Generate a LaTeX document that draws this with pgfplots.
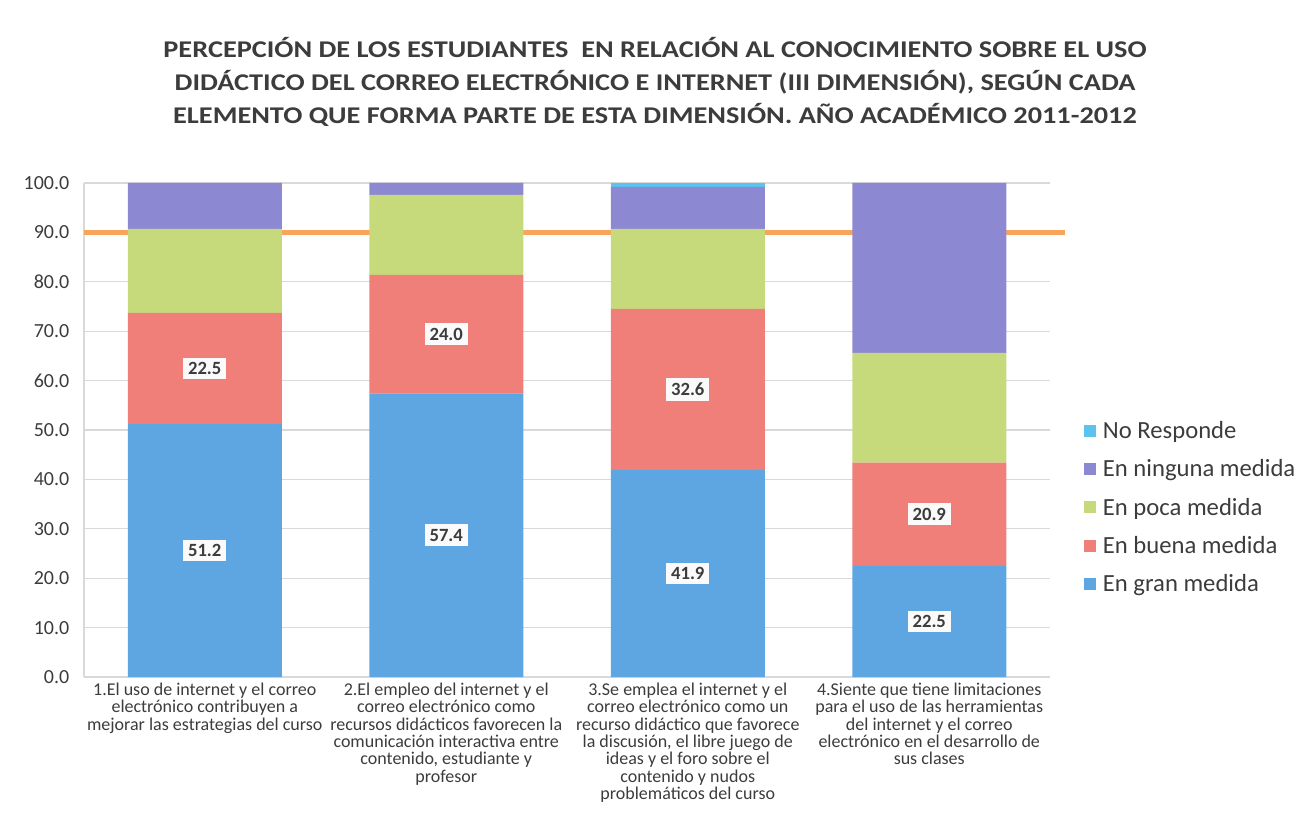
\documentclass[border=0pt]{standalone}
\usepackage{pgfplots}
\pgfplotsset{compat=1.18}
\usepackage{pgfplotstable}
\usepackage{fontspec}
\setmainfont{Carlito}
\definecolor{cgran}{HTML}{5DA6E2}
\definecolor{cbuena}{HTML}{F07F7A}
\definecolor{cpoca}{HTML}{C6DA7C}
\definecolor{cninguna}{HTML}{8D88D2}
\definecolor{cnr}{HTML}{5BC3EE}
\definecolor{corange}{HTML}{F8A45A}
\definecolor{tgray}{HTML}{3C3C3C}
\definecolor{ggray}{HTML}{D9D9D9}

\pgfplotstableread{
x gran buena poca ninguna nr
0 51.2 22.5 17.0 9.3 0
1 57.4 24.0 16.2 2.4 0
2 41.9 32.6 16.2 8.5 0.8
3 22.5 20.9 22.2 34.4 0
}\datatable

\pgfplotstableread{
x y lab
0 25.6 51.2
0 62.45 22.5
1 28.7 57.4
1 69.4 24.0
2 20.95 41.9
2 58.2 32.6
3 11.25 22.5
3 32.95 20.9
}\labeltable

\begin{document}
\begin{tikzpicture}
\path[use as bounding box] (0,0) rectangle (984.75pt,627pt);
\node[align=center, font=\bfseries\fontsize{18}{24.75}\selectfont, text=tgray, xscale=1.18, transform shape] at (491.25pt,565.5pt)
{PERCEPCIÓN DE LOS ESTUDIANTES \ EN RELACIÓN AL CONOCIMIENTO SOBRE EL USO\\
DIDÁCTICO DEL CORREO ELECTRÓNICO E INTERNET (III DIMENSIÓN), SEGÚN CADA\\
ELEMENTO QUE FORMA PARTE DE ESTA DIMENSIÓN. AÑO ACADÉMICO 2011-2012};

\begin{axis}[
  at={(63pt,119.25pt)}, anchor=south west,
  scale only axis, width=724.5pt, height=370.5pt,
  ybar stacked, bar width=115.5pt,
  xmin=-0.5, xmax=3.5, ymin=0, ymax=100,
  ytick={0,10,...,100},
  yticklabel={\pgfmathprintnumber[fixed,fixed zerofill,precision=1]{\tick}},
  /pgf/number format/assume math mode=true,
  yticklabel style={font=\fontsize{15}{17}\selectfont, text=tgray, xshift=-7.5pt},
  xtick=data,
  xticklabels={
    {1.El uso de internet y el correo\\electrónico contribuyen a\\mejorar las estrategias del curso},
    {2.El empleo del internet y el\\correo electrónico como\\recursos didácticos favorecen la\\comunicación interactiva entre\\contenido, estudiante y\\profesor},
    {3.Se emplea el internet y el\\correo electrónico como un\\recurso didáctico que favorece\\la discusión, el libre juego de\\ideas y el foro sobre el\\contenido y nudos\\problemáticos del curso},
    {4.Siente que tiene limitaciones\\para el uso de las herramientas\\del internet y el correo\\electrónico en el desarrollo de\\sus clases}},
  xticklabel style={align=center, font=\fontsize{13.5}{13}\selectfont, text=tgray, yshift=-1pt},
  major tick length=0pt,
  ymajorgrids, grid style={ggray, line width=0.8pt},
  axis x line*=bottom, axis y line*=left,
  axis line style={ggray, line width=0.8pt, -},
  reverse legend,
  legend style={at={(1.031,0.528)}, anchor=north west, draw=none, fill=none,
    font=\fontsize{18.5}{21}\selectfont, text=tgray, row sep=10.2pt},
  legend cell align=left,
  legend image code/.code={\fill[#1] (0pt,-4.5pt) rectangle (9pt,4.5pt); \path (12pt,0pt);},
  clip=false,
]
\addplot[fill=cgran, draw=none] table[x=x, y=gran] {\datatable};
\addlegendentry{En gran medida}
\addplot[fill=cbuena, draw=none] table[x=x, y=buena] {\datatable};
\addlegendentry{En buena medida}
\addplot[fill=cpoca, draw=none] table[x=x, y=poca] {\datatable};
\addlegendentry{En poca medida}
\addplot[fill=cninguna, draw=none] table[x=x, y=ninguna] {\datatable};
\addlegendentry{En ninguna medida}
\addplot[fill=cnr, draw=none] table[x=x, y=nr] {\datatable};
\addlegendentry{No Responde}
\draw[corange, line width=3.5pt] (axis cs:-0.5,90) -- (axis cs:3.56,90);
\end{axis}

\begin{axis}[
  at={(63pt,119.25pt)}, anchor=south west,
  scale only axis, width=724.5pt, height=370.5pt,
  xmin=-0.5, xmax=3.5, ymin=0, ymax=100,
  hide axis, clip=false,
]
\addplot[draw=none, mark=none, nodes near coords, point meta=explicit symbolic,
  nodes near coords align=center,
  every node near coord/.append style={anchor=center, fill=white!96!gray, text=tgray,
    font=\bfseries\fontsize{14}{16}\selectfont, inner sep=3.5pt}]
  table[x=x, y=y, meta=lab] {\labeltable};
\end{axis}
\end{tikzpicture}
\end{document}
